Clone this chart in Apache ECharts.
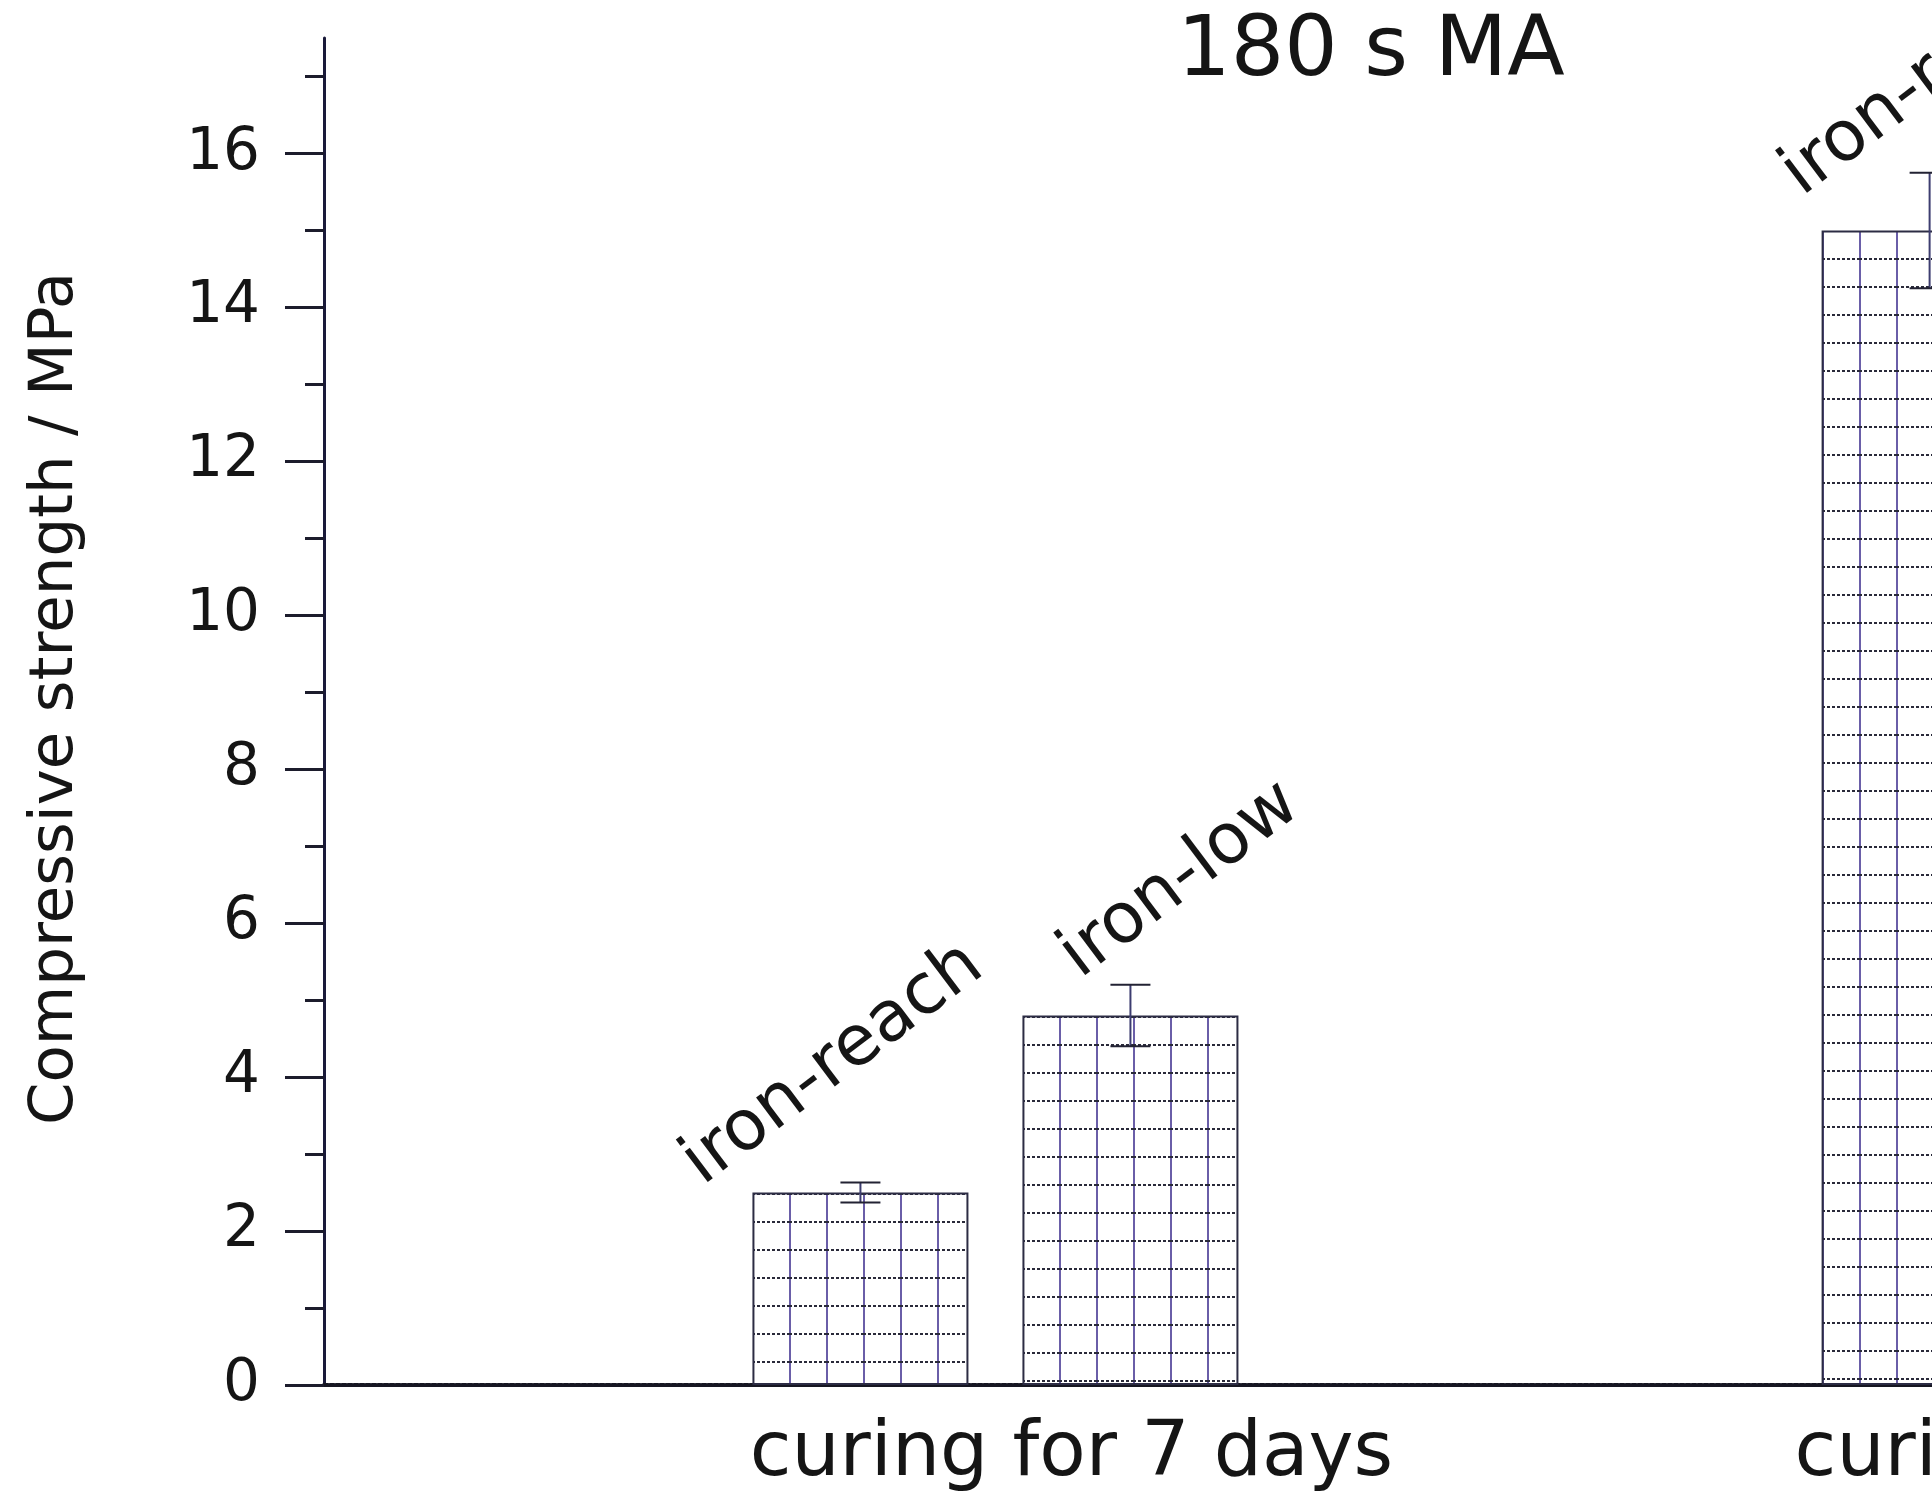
<!DOCTYPE html>
<html>
<head>
<meta charset="utf-8">
<script src="https://cdn.jsdelivr.net/npm/echarts@6/dist/echarts.min.js"></script>
<style>
  html, body { margin: 0; padding: 0; background: #ffffff; }
  #chart { width: 1932px; height: 1492px; }
</style>
</head>
<body>
<div id="chart"></div>
<script>
// ---------------- data ----------------
const categories = ['curing for 7 days', 'curing for 28 days'];
const seriesNames = ['iron-reach', 'iron-low'];
const ironReach = [2.5, 15.0];
const ironLow = [4.8, null];
const ironReachErr = [0.13, 0.75];
const ironLowErr = [0.4, null];
const yMajorTicks = [0, 2, 4, 6, 8, 10, 12, 14, 16];
const yMinorTicks = [1, 3, 5, 7, 9, 11, 13, 15, 17];
const titleText = '180 s MA';
const yAxisName = 'Compressive strength / MPa';

// ---------------- layout / style ----------------
const FONT = 'DejaVu Sans';
const TEXT_COLOR = '#151515';
const X_UNIT_PX = 1069;    // pixel length of one group step on the x scale
const GROUP_X0 = 0.628;    // bar group centre of the first category
const LABEL_X0 = 0.699;    // category label centre of the first category
const X_MAX = 2.4;
const Y_MAX = 17.5;
const BAR_W = 216;
const BAR_GAP = 54;
const CAP_W = 40;
const LABEL_ROT = 37 * Math.PI / 180;
// label centre shift (px) from the top centre of each bar: [series][group]
const LABEL_SHIFT = [
  [[-27, -128], [3, -155]],
  [[50, -135], [50, -135]]
];

const allValues = [ironReach, ironLow];
const allErrors = [ironReachErr, ironLowErr];
const NSLOTS = allValues.length;

// hatch pattern used for the bar fill
const PAT_W = 37, PAT_H = 28;
const patCanvas = document.createElement('canvas');
patCanvas.width = PAT_W; patCanvas.height = PAT_H;
(function () {
  const c = patCanvas.getContext('2d');
  c.fillStyle = '#ffffff'; c.fillRect(0, 0, PAT_W, PAT_H);
  c.strokeStyle = '#6a5ea8'; c.lineWidth = 2;
  c.beginPath(); c.moveTo(1, 0); c.lineTo(1, PAT_H); c.stroke();
  c.strokeStyle = '#2a2a3a'; c.lineWidth = 2; c.setLineDash([3, 2]);
  c.beginPath(); c.moveTo(0, 1); c.lineTo(PAT_W, 1); c.stroke();
})();
function pattern(x, y) {
  return { image: patCanvas, repeat: 'repeat', x: x || 0, y: y || 0 };
}

const chart = echarts.init(document.getElementById('chart'), null, { renderer: 'canvas', devicePixelRatio: 1 });

const barSeries = allValues.map((vals, s) => ({
  type: 'bar',
  name: seriesNames[s],
  data: vals.map((v, g) => [g + GROUP_X0, v]),
  barWidth: BAR_W,
  barGap: (BAR_GAP / BAR_W * 100).toFixed(2) + '%',
  itemStyle: { color: pattern(0, 0), borderColor: '#2c2c44', borderWidth: 2 },
  emphasis: { disabled: true },
  z: 2
}));

const errData = [];
allValues.forEach((vals, s) => {
  vals.forEach((v, g) => {
    if (v === null || v === undefined) return;
    const e = allErrors[s][g];
    errData.push([g + GROUP_X0, v, e === null ? 0 : e, s, g]);
  });
});

const errSeries = {
  type: 'custom',
  name: 'error bars',
  data: errData,
  encode: { x: 0, y: 1 },
  z: 5,
  silent: true,
  renderItem: function (params, api) {
    const x = api.value(0), v = api.value(1), e = api.value(2);
    const s = api.value(3), g = api.value(4);
    const slot = (s - (NSLOTS - 1) / 2) * (BAR_W + BAR_GAP);
    const top = api.coord([x, v]);
    const cx = top[0] + slot;
    const children = [];
    if (e > 0) {
      const hi = api.coord([x, v + e])[1];
      const lo = api.coord([x, v - e])[1];
      children.push({ type: 'line', shape: { x1: cx, y1: hi, x2: cx, y2: lo }, style: { stroke: '#3d3d70', lineWidth: 2 } });
      children.push({ type: 'line', shape: { x1: cx - CAP_W / 2, y1: hi, x2: cx + CAP_W / 2, y2: hi }, style: { stroke: '#222233', lineWidth: 2 } });
      children.push({ type: 'line', shape: { x1: cx - CAP_W / 2, y1: lo, x2: cx + CAP_W / 2, y2: lo }, style: { stroke: '#222233', lineWidth: 2 } });
    }
    const sh = LABEL_SHIFT[s][g];
    children.push({
      type: 'text',
      x: cx + sh[0],
      y: top[1] + sh[1],
      rotation: LABEL_ROT,
      style: {
        text: seriesNames[s],
        fill: TEXT_COLOR,
        font: '70px "' + FONT + '"',
        align: 'center',
        verticalAlign: 'middle'
      }
    });
    return { type: 'group', children: children };
  }
};

const option = {
  backgroundColor: '#ffffff',
  animation: false,
  title: {
    text: titleText,
    left: 1371,
    top: 11,
    padding: 0,
    textAlign: 'center',
    textVerticalAlign: 'top',
    textStyle: { fontFamily: FONT, fontSize: 84, lineHeight: 84, fontWeight: 'normal', color: TEXT_COLOR }
  },
  grid: { left: 324, top: 38, bottom: 107, width: Math.round(X_MAX * X_UNIT_PX), containLabel: false, outerBoundsMode: 'none' },
  xAxis: {
    type: 'value',
    min: 0,
    max: X_MAX,
    splitLine: { show: false },
    axisTick: { show: false },
    axisLine: { show: true, onZero: false, lineStyle: { color: '#161622', width: 4, type: [4, 2] } },
    axisLabel: {
      customValues: categories.map((c, i) => i + LABEL_X0),
      formatter: function (v) { return categories[Math.round(v - LABEL_X0)] || ''; },
      fontFamily: FONT, fontSize: 76, color: TEXT_COLOR, margin: 32,
      hideOverlap: false
    }
  },
  yAxis: [
    {
      type: 'value',
      min: 0,
      max: Y_MAX,
      position: 'left',
      name: yAxisName,
      nameLocation: 'middle',
      nameRotate: 90,
      nameGap: 237,
      nameTextStyle: { fontFamily: FONT, fontSize: 61, color: TEXT_COLOR, padding: [0, 0, 0, 26] },
      splitLine: { show: false },
      axisLine: { show: true, onZero: false, lineStyle: { color: '#1a1a3a', width: 3 } },
      axisTick: { show: true, inside: false, length: 39, customValues: yMajorTicks, lineStyle: { color: '#1c1c2c', width: 3 } },
      axisLabel: { customValues: yMajorTicks, fontFamily: FONT, fontSize: 58, color: TEXT_COLOR, margin: 64 }
    },
    {
      type: 'value',
      min: 0,
      max: Y_MAX,
      position: 'left',
      offset: 0,
      splitLine: { show: false },
      axisLine: { show: false },
      axisLabel: { show: false },
      axisTick: { show: true, inside: false, length: 19, customValues: yMinorTicks, lineStyle: { color: '#1c1c2c', width: 3 } }
    }
  ],
  series: barSeries.concat([errSeries])
};

chart.setOption(option);

// align each bar's hatch pattern with its own top-left corner
try {
  const model = chart.getModel();
  const updates = barSeries.map((bs, si) => {
    const data = model.getSeriesByIndex(si).getData();
    return {
      data: bs.data.map((d, di) => {
        const lay = data.getItemLayout(di);
        if (!lay || d[1] === null || !isFinite(lay.x)) return d;
        const topY = Math.min(lay.y, lay.y + lay.height);
        return { value: d, itemStyle: { color: pattern(Math.round(lay.x), Math.round(topY)) } };
      })
    };
  });
  chart.setOption({ series: updates });
} catch (e) { /* keep default pattern */ }
</script>
</body>
</html>
